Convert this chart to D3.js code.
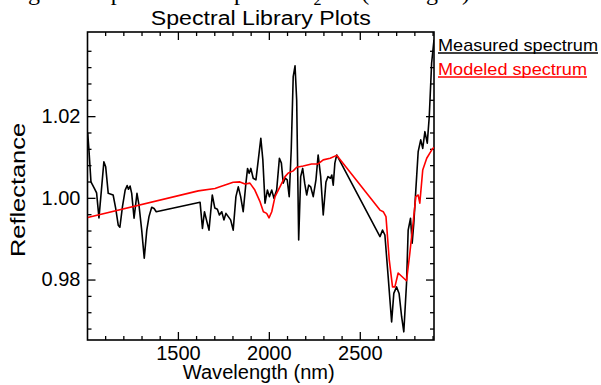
<!DOCTYPE html>
<html>
<head>
<meta charset="utf-8">
<script src="https://cdn.jsdelivr.net/npm/d3@7"></script>
<style>
  html, body { margin: 0; padding: 0; background: #fff; }
  #chart { width: 601px; height: 385px; }
  text { font-family: "Liberation Sans", Arial, sans-serif; fill: #000; }
  .bodyText { font-family: "Liberation Serif", "Times New Roman", serif; }
</style>
</head>
<body>
<div id="chart"></div>
<script>

// wavelength (nm) / reflectance pairs
const measuredWave = [
  1004, 1011, 1022, 1040, 1053, 1066, 1081, 1093, 1103, 1117, 1132, 1144, 1158, 1172, 1181,
  1195, 1210, 1221, 1228, 1237, 1246, 1259, 1275, 1286, 1301, 1315, 1329, 1341, 1356, 1369,
  1381, 1622, 1635, 1646, 1657, 1671, 1689, 1703, 1717, 1728, 1741, 1753, 1764, 1777, 1790,
  1804, 1819, 1832, 1845, 1859, 1874, 1883, 1892, 1901, 1914, 1929, 1942, 1956, 1967, 1979,
  1992, 2003, 2016, 2028, 2043, 2058, 2069, 2079, 2090, 2101, 2112, 2123, 2134, 2144, 2153,
  2164, 2175, 2186, 2197, 2208, 2219, 2230, 2244, 2259, 2271, 2285, 2299, 2314, 2325, 2339,
  2346, 2354, 2363, 2373, 2611, 2625, 2638, 2656, 2675, 2687, 2702, 2716, 2730, 2742, 2757,
  2766, 2779, 2788, 2797, 2808, 2821, 2835, 2846, 2858, 2871, 2882, 2895, 2904, 2908
];
const measuredRefl = [
  1.0159, 1.0117, 1.0039, 1.0024, 1.0012, 0.9951, 1.0027, 1.0088, 1.0076, 1.0011, 1.0009, 1.0007, 0.9974, 0.9933, 0.9928,
  0.9978, 1.0019, 1.0030, 1.0021, 1.0029, 1.0011, 0.9950, 1.0011, 0.9982, 0.9921, 0.9852, 0.9921, 0.9954, 0.9977, 0.9974,
  0.9966, 0.9989, 0.9925, 0.9966, 0.9946, 0.9921, 1.0007, 0.9975, 0.9972, 0.9958, 0.9966, 0.9946, 0.9962, 0.9954, 0.9946,
  0.9921, 1.0003, 1.0027, 1.0003, 0.9966, 1.0036, 1.0072, 1.0060, 1.0072, 1.0048, 1.0044, 1.0093, 1.0146, 1.0093, 0.9987,
  1.0019, 1.0003, 1.0019, 0.9999, 1.0019, 1.0097, 1.0085, 1.0036, 1.0048, 1.0044, 1.0003, 1.0117, 1.0297, 1.0323, 1.0240,
  0.9897, 1.0052, 1.0072, 1.0036, 1.0007, 1.0031, 1.0027, 1.0003, 1.0044, 1.0105, 1.0052, 0.9958, 1.0039, 1.0052, 1.0048,
  1.0056, 1.0031, 1.0085, 1.0105, 0.9905, 0.9921, 0.9909, 0.9807, 0.9696, 0.9766, 0.9782, 0.9766, 0.9709, 0.9672, 0.9791,
  0.9921, 0.9950, 0.9889, 0.9938, 1.0019, 1.0113, 1.0142, 1.0121, 1.0162, 1.0134, 1.0199, 1.0330, 1.0370, 1.0387
];

const modeledWave = [
  1004, 1612, 1704, 1731, 1804, 1841, 1869, 1896, 1923, 1952, 1970, 1988, 2001, 2016, 2034,
  2061, 2089, 2107, 2134, 2153, 2189, 2235, 2271, 2299, 2337, 2373, 2611, 2629, 2644, 2662,
  2680, 2693, 2711, 2730, 2757, 2775, 2793, 2808, 2821, 2830, 2846, 2868, 2895, 2908
];
const modeledRefl = [
  0.9952, 1.0017, 1.0023, 1.0027, 1.0038, 1.0039, 1.0034, 1.0036, 1.0019, 0.9990, 0.9966, 0.9962, 0.9951, 0.9966, 1.0003,
  1.0027, 1.0052, 1.0061, 1.0066, 1.0075, 1.0078, 1.0083, 1.0083, 1.0093, 1.0097, 1.0104, 0.9970, 0.9966, 0.9954, 0.9848,
  0.9782, 0.9782, 0.9816, 0.9808, 0.9797, 0.9864, 0.9938, 1.0003, 1.0007, 0.9987, 1.0068, 1.0097, 1.0117, 1.0124
];

const xMajorTicks = [1500, 2000, 2500];
const xMinorTicks = [1100, 1200, 1300, 1400, 1600, 1700, 1800, 1900, 2100, 2200, 2300, 2400, 2600, 2700, 2800, 2900];
const yMajorTicks = [0.98, 1.00, 1.02];
const yMinorTicks = [0.968, 0.972, 0.976, 0.984, 0.988, 0.992, 0.996, 1.004, 1.008, 1.012, 1.016, 1.024, 1.028, 1.032, 1.036];

const legendLabels = ["Measured spectrum", "Modeled spectrum"];
const legendColors = ["#000000", "#ff0000"];


/*************************
***** SET DIMENSIONS *****
*************************/

const width = 601;
const height = 385;
const margin = {top: 32, left: 87.5, right: 167, bottom: 45};
const plotWidth = width - margin.left - margin.right;
const plotHeight = height - margin.top - margin.bottom;

const x = d3.scaleLinear().domain([1003, 2908]).range([0, plotWidth]);
const y = d3.scaleLinear().domain([0.9652, 1.0406]).range([plotHeight, 0]);

const svg = d3.select("#chart")
    .append("svg")
    .attr("width", width)
    .attr("height", height);

/**********************************
***** TEXT ABOVE (PAGE CROP) *****
**********************************/

// only the bottom edge of this line of the page survives the crop
const body = svg.append("text")
    .attr("class", "bodyText")
    .attr("x", 476)
    .attr("y", 0)
    .attr("text-anchor", "end")
    .style("font-size", "24px");
body.append("tspan").text("gives a spectral fit to pure SO");
body.append("tspan").attr("dy", 5).style("font-size", "16px").text("2");
body.append("tspan").attr("dy", -5).text(" ice (see Fig. 3).");

/****************
***** TITLE *****
****************/

svg.append("text")
    .attr("x", margin.left + plotWidth / 2)
    .attr("y", 25)
    .attr("text-anchor", "middle")
    .attr("textLength", 220)
    .attr("lengthAdjust", "spacingAndGlyphs")
    .style("font-size", "20px")
    .text("Spectral Library Plots");

const g = svg.append("g")
    .attr("transform", `translate(${margin.left},${margin.top})`);

/*********************
***** AXES/TICKS *****
*********************/

function styleAxis(sel) {
    sel.select(".domain").remove();
    sel.selectAll("line").attr("stroke", "#000").attr("stroke-width", 1.3);
    sel.selectAll("text")
        .style("font-family", "'Liberation Sans', Arial, sans-serif")
        .style("font-size", "20px")
        .attr("fill", "#000");
}

// bottom
g.append("g").attr("transform", `translate(0,${plotHeight})`)
    .call(d3.axisBottom(x).tickValues(xMajorTicks).tickSize(-8).tickPadding(6).tickFormat(d3.format("d")))
    .call(styleAxis);
g.append("g").attr("transform", `translate(0,${plotHeight})`)
    .call(d3.axisBottom(x).tickValues(xMinorTicks).tickSize(-4).tickFormat(""))
    .call(styleAxis);
// top
g.append("g")
    .call(d3.axisTop(x).tickValues(xMajorTicks).tickSize(-8).tickFormat(""))
    .call(styleAxis);
g.append("g")
    .call(d3.axisTop(x).tickValues(xMinorTicks).tickSize(-4).tickFormat(""))
    .call(styleAxis);
// left
g.append("g")
    .call(d3.axisLeft(y).tickValues(yMajorTicks).tickSize(-8).tickPadding(7).tickFormat(d3.format(".2f")))
    .call(styleAxis);
g.append("g")
    .call(d3.axisLeft(y).tickValues(yMinorTicks).tickSize(-4).tickFormat(""))
    .call(styleAxis);
// right
g.append("g").attr("transform", `translate(${plotWidth},0)`)
    .call(d3.axisRight(y).tickValues(yMajorTicks).tickSize(-8).tickFormat(""))
    .call(styleAxis);
g.append("g").attr("transform", `translate(${plotWidth},0)`)
    .call(d3.axisRight(y).tickValues(yMinorTicks).tickSize(-4).tickFormat(""))
    .call(styleAxis);

// frame
g.append("rect")
    .attr("width", plotWidth)
    .attr("height", plotHeight)
    .attr("fill", "none")
    .attr("stroke", "#000")
    .attr("stroke-width", 1.6);

/************************
***** AXIS LABELS *****
************************/

svg.append("text")
    .attr("x", margin.left + plotWidth / 2 - 2)
    .attr("y", 379)
    .attr("text-anchor", "middle")
    .attr("textLength", 152)
    .attr("lengthAdjust", "spacingAndGlyphs")
    .style("font-size", "20px")
    .text("Wavelength (nm)");

svg.append("text")
    .attr("transform", `translate(25,${margin.top + plotHeight / 2 + 4}) rotate(-90)`)
    .attr("text-anchor", "middle")
    .attr("textLength", 134)
    .attr("lengthAdjust", "spacingAndGlyphs")
    .style("font-size", "20px")
    .text("Reflectance");

/*****************
***** LINES *****
*****************/

g.append("clipPath").attr("id", "plotClip")
    .append("rect").attr("width", plotWidth).attr("height", plotHeight);

const line = d3.line()
    .x(d => x(d[0]))
    .y(d => y(d[1]));

const measured = measuredWave.map((w, i) => [w, measuredRefl[i]]);
const modeled = modeledWave.map((w, i) => [w, modeledRefl[i]]);

const plot = g.append("g").attr("id", "plot").attr("clip-path", "url(#plotClip)");

plot.append("path")
    .datum(measured)
    .attr("fill", "none")
    .attr("stroke", "#000")
    .attr("stroke-width", 1.6)
    .attr("stroke-linejoin", "round")
    .attr("d", line);

plot.append("path")
    .datum(modeled)
    .attr("fill", "none")
    .attr("stroke", "#ff0000")
    .attr("stroke-width", 1.6)
    .attr("stroke-linejoin", "round")
    .attr("d", line);

/*****************
***** LEGEND *****
*****************/

const legendWidths = [160, 149];
const legend = svg.append("g").attr("id", "legend");
legendLabels.forEach((lab, i) => {
    const yy = 51 + i * 24;
    legend.append("text")
        .attr("x", 438)
        .attr("y", yy)
        .attr("textLength", legendWidths[i])
        .attr("lengthAdjust", "spacingAndGlyphs")
        .style("font-size", "17px")
        .style("fill", legendColors[i])
        .text(lab);
    legend.append("line")
        .attr("x1", 438).attr("x2", 438 + legendWidths[i])
        .attr("y1", yy + 2).attr("y2", yy + 2)
        .attr("stroke", legendColors[i])
        .attr("stroke-width", 1.3);
});

</script>
</body>
</html>
